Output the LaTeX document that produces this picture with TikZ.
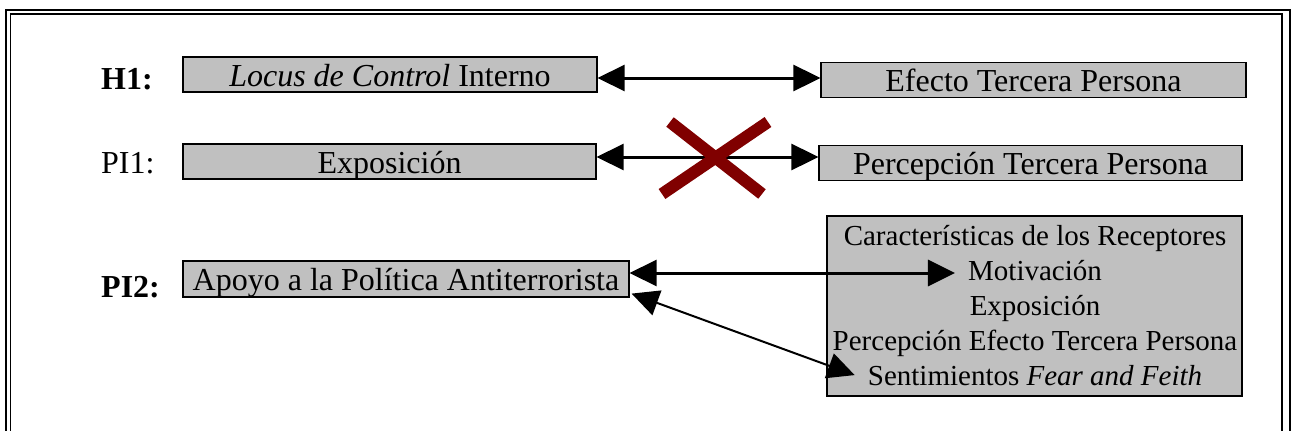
\documentclass[tikz,border=0pt]{standalone}
\usepackage{fontspec}
\setmainfont{Liberation Serif}
\usetikzlibrary{arrows.meta}
\definecolor{gris}{HTML}{C0C0C0}
\definecolor{granate}{HTML}{800000}

\begin{document}
\begin{tikzpicture}[x=1pt,y=-1pt,
  font=\fontsize{32}{35}\selectfont,
  caja/.style={draw,fill=gris,line width=1.2pt,inner sep=0pt,
    minimum height=35pt,text height=29pt,text depth=6pt},
  linea/.style={inner xsep=13pt,inner ysep=0pt,font=\fontsize{29}{35}\selectfont},
  enlace/.style={{Triangle[length=27pt,width=26pt]}-{Triangle[length=27pt,width=26pt]},line width=3pt},
  etiqueta/.style={anchor=base west,inner sep=0pt},
  cruz/.style={draw=granate,line width=12pt}]
\useasboundingbox (0,0) rectangle (1291,431);

\draw[line width=1.2pt] (6,431) -- (6,10) -- (1290,10) -- (1290,431);
\draw[line width=1.2pt] (10.5,431) -- (10.5,14) -- (1282,14) -- (1282,431);

\node[etiqueta] (h1) at (101,89) {\textbf{H1:}};
\node[etiqueta] (pi1) at (101,173) {PI1:};
\node[etiqueta] (pi2) at (101,297) {\textbf{PI2:}};

\node[caja,minimum width=414pt] (locus) at (390,74.5) {\textit{Locus de Control} Interno};
\node[caja,minimum width=425pt] (efecto) at (1033.5,80) {Efecto Tercera Persona};
\node[caja,minimum width=413pt] (expo) at (389.5,161.5) {Exposición};
\node[caja,minimum width=423pt] (percep) at (1030.5,163) {Percepción Tercera Persona};
\node[caja,minimum width=446pt,minimum height=36pt] (apoyo) at (406,279) {Apoyo a la Política Antiterrorista};

\node[caja,minimum width=415pt,minimum height=180pt] (recep) at (1034.5,306) {};
\node[linea,anchor=base] (carac) at (1035,245) {Características de los Receptores};
\node[linea,anchor=base] (motiv) at (1035,280) {Motivación};
\node[linea,anchor=base] (expos) at (1035,315) {Exposición};
\node[linea,anchor=base] (percef) at (1035,350) {Percepción Efecto Tercera Persona};
\node[linea,anchor=base] (sentim) at (1035,385) {Sentimientos \textit{Fear and Feith}};

\draw[enlace] (locus.east |- 0,78) -- (efecto.west |- 0,78);
\draw[enlace] (expo.east |- 0,157) -- (percep.west |- 0,157);
\draw[enlace] (apoyo.east |- 0,273) -- (motiv.west |- 0,273);
\draw[enlace,line width=2pt] ([shift={(2,-4)}]apoyo.south east) -- (sentim.west);

\draw[cruz] (670,122) -- (762,194);
\draw[cruz] (768,122) -- (662,194);
\end{tikzpicture}
\end{document}
